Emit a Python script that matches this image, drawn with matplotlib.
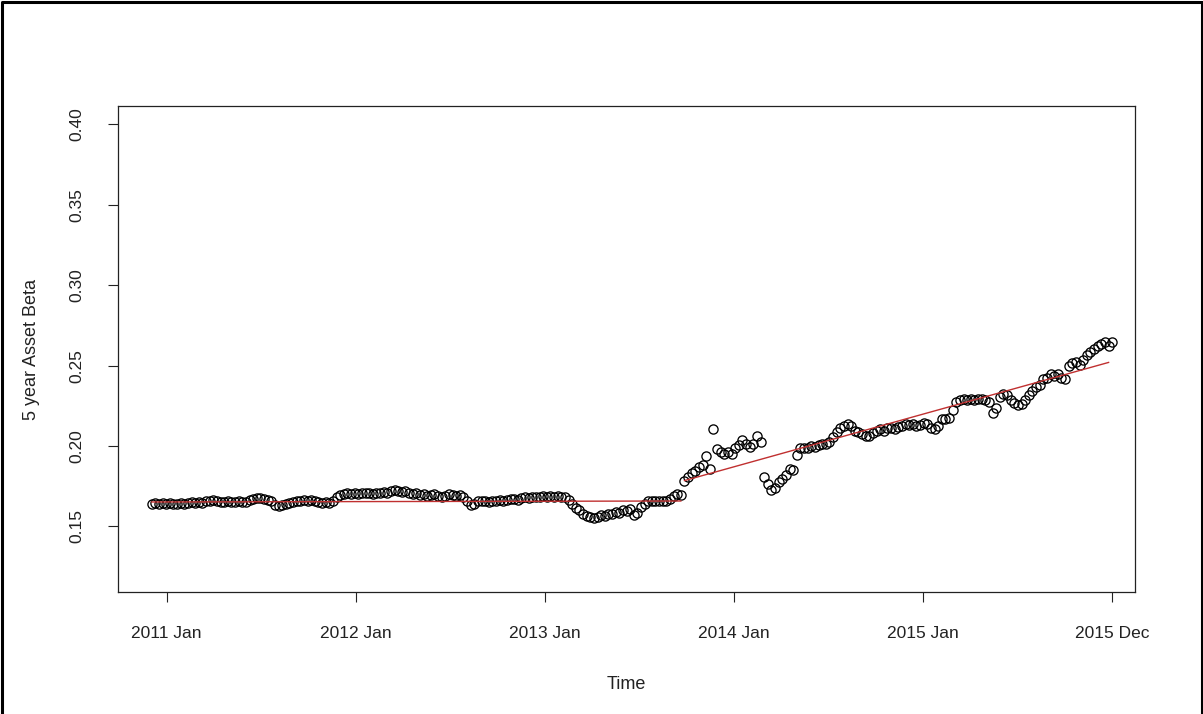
import numpy as np
import pandas as pd
import matplotlib
matplotlib.use("Agg")
import matplotlib.pyplot as plt
from matplotlib.lines import Line2D

plt.rcParams['font.family'] = ['Liberation Sans', 'DejaVu Sans']

# Weekly 5-year asset beta, first observation 2010-12-03
start_date = "2010-12-03"

beta_2011 = [0.164, 0.1645, 0.164, 0.1645, 0.164, 0.1645, 0.164, 0.164, 0.1645, 0.164,
             0.1645, 0.165, 0.1645, 0.165, 0.1645, 0.1655, 0.166, 0.1665, 0.1655, 0.165,
             0.165, 0.1655, 0.165, 0.165, 0.1655, 0.165, 0.165, 0.1665, 0.167, 0.1675,
             0.1675, 0.167, 0.1665, 0.166, 0.1635, 0.163, 0.1635, 0.164, 0.1645, 0.165,
             0.1655, 0.166, 0.1665, 0.166, 0.1665, 0.166, 0.165, 0.1645, 0.165, 0.1645,
             0.166, 0.168, 0.1695, 0.170, 0.1705, 0.170]
beta_2012 = [0.1705, 0.170, 0.1705, 0.171,
             0.1705, 0.170, 0.1705, 0.171, 0.1715, 0.171, 0.172, 0.1725, 0.172, 0.1715,
             0.172, 0.171, 0.170, 0.1705, 0.1695, 0.170, 0.169, 0.1695, 0.170, 0.169,
             0.1685, 0.169, 0.170, 0.1695, 0.169, 0.1695, 0.168, 0.166, 0.1635, 0.164,
             0.1655, 0.166, 0.1655, 0.165, 0.1655, 0.166, 0.1665, 0.166, 0.1665, 0.167,
             0.167, 0.1665, 0.1675, 0.168, 0.1675, 0.168, 0.1685, 0.168]
beta_2013 = [0.169, 0.1685,
             0.169, 0.1685, 0.169, 0.1685, 0.168, 0.1665, 0.164, 0.1615, 0.160, 0.158,
             0.1565, 0.156, 0.1555, 0.156, 0.157, 0.1565, 0.158, 0.1575, 0.159, 0.1585,
             0.160, 0.1595, 0.161, 0.157, 0.1585, 0.162, 0.164, 0.1655, 0.166, 0.1655,
             0.166, 0.1655, 0.166, 0.167, 0.169, 0.170, 0.1695, 0.178, 0.181, 0.1835,
             0.1845, 0.187, 0.188, 0.194, 0.186, 0.2105, 0.198, 0.1965, 0.195, 0.196]
beta_2014 = [0.195, 0.1985, 0.2005, 0.2035, 0.2015, 0.1995, 0.201, 0.2065, 0.2025, 0.1805,
             0.1765, 0.1725, 0.174, 0.1775, 0.1795, 0.182, 0.186, 0.185, 0.1945, 0.1985,
             0.199, 0.1985, 0.2, 0.1995, 0.2005, 0.2015, 0.201, 0.2025, 0.2055, 0.209,
             0.211, 0.2125, 0.2135, 0.2125, 0.2095, 0.2085, 0.2075, 0.206, 0.2065, 0.208,
             0.2095, 0.2105, 0.2095, 0.211, 0.2115, 0.2105, 0.212, 0.2125, 0.2135, 0.213,
             0.2135, 0.2125]
beta_2015 = [0.213, 0.2145, 0.2135, 0.2115, 0.2105, 0.2125, 0.2165, 0.217,
             0.2175, 0.2225, 0.2275, 0.2285, 0.229, 0.2285, 0.229, 0.2285, 0.2295, 0.229,
             0.2285, 0.2275, 0.2205, 0.2235, 0.2305, 0.2325, 0.2315, 0.2285, 0.2265, 0.2255,
             0.226, 0.2285, 0.2315, 0.2345, 0.2365, 0.238, 0.2415, 0.2425, 0.2445, 0.2435,
             0.2445, 0.2425, 0.2415, 0.2495, 0.2515, 0.2525, 0.2505, 0.2535, 0.2565, 0.2585,
             0.2605, 0.2625, 0.2635, 0.2645, 0.2625, 0.2645]

# Piecewise trend: flat regime, then rising regime
trend_flat_dates = ["2010-12-03", "2013-09-20"]
trend_flat_vals = [0.1652, 0.1658]
trend_rise_dates = ["2013-09-27", "2015-12-25"]
trend_rise_vals = [0.1785, 0.2520]

x_tick_dates = ["2011-01-01", "2012-01-01", "2013-01-01", "2014-01-01", "2015-01-01"]
x_tick_labels = ["2011 Jan", "2012 Jan", "2013 Jan", "2014 Jan", "2015 Jan", "2015 Dec"]
y_ticks = [0.15, 0.20, 0.25, 0.30, 0.35, 0.40]
y_tick_labels = ["0.15", "0.20", "0.25", "0.30", "0.35", "0.40"]

beta = np.concatenate([beta_2011, beta_2012, beta_2013, beta_2014, beta_2015])
dates = pd.date_range(start_date, periods=len(beta), freq="7D")

W, H = 1203, 714
fig = plt.figure(figsize=(W / 100, H / 100), dpi=100)
fig.patch.set_facecolor("white")

ax = fig.add_axes([118 / W, 1 - 592 / H, (1135 - 118) / W, (592 - 106) / H])

ax.plot(dates, beta, linestyle="none", marker="o", markersize=6.6,
        markerfacecolor="none", markeredgecolor="black", markeredgewidth=0.95)
ax.plot(pd.to_datetime(trend_flat_dates), trend_flat_vals, color="#c03030", lw=1.0)
ax.plot(pd.to_datetime(trend_rise_dates), trend_rise_vals, color="#c03030", lw=1.0)

ax.set_xlim(pd.Timestamp("2010-09-29"), pd.Timestamp("2016-02-14"))
ax.set_ylim(0.1092, 0.4115)

tick_pos = list(pd.to_datetime(x_tick_dates)) + [dates[-1]]
ax.set_xticks(tick_pos)
ax.set_xticklabels(x_tick_labels)
ax.set_yticks(y_ticks)
ax.set_yticklabels(y_tick_labels, rotation=90, va="center")

ax.tick_params(axis="both", direction="out", length=7.5, width=0.8,
               labelsize=12.5, pad=17, colors="#222222")
for sp in ax.spines.values():
    sp.set_linewidth(0.9)
    sp.set_color("#222222")

ax.set_xlabel("Time", fontsize=13, labelpad=25, color="#222222")
ax.set_ylabel("5 year Asset Beta", fontsize=13, labelpad=21, color="#222222")

# Frame lines along the left, top and right edges of the figure
frame_x = [1.5 / W, 1.5 / W, 1 - 1.5 / W, 1 - 1.5 / W]
frame_y = [0.0, 1 - 1.5 / H, 1 - 1.5 / H, 0.0]
fig.add_artist(Line2D(frame_x, frame_y, transform=fig.transFigure,
                      color="black", lw=2.2))

fig.savefig("out.png", dpi=100)
